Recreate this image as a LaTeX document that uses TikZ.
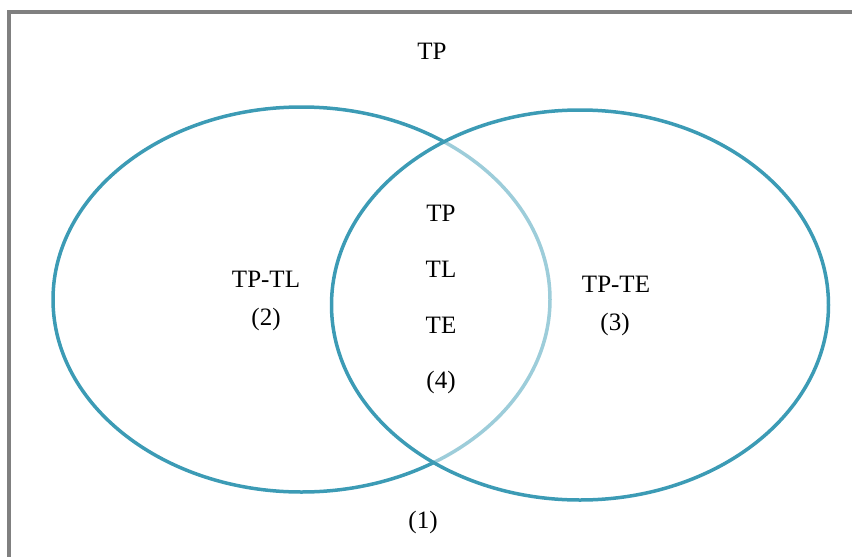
\documentclass[tikz,border=0pt]{standalone}
\usepackage{fontspec}
\setmainfont{Liberation Serif}
\definecolor{venn}{RGB}{60,155,181}
\definecolor{frame}{RGB}{128,128,128}
\tikzset{
  lbl/.style={anchor=base, inner sep=0pt, font=\fontsize{25}{30}\selectfont, text=black},
  ring/.style={draw=venn, line width=3.5pt},
}
\begin{document}
\begin{tikzpicture}[x=1pt,y=-1pt]
\useasboundingbox (0,0) rectangle (852,557);
% frame
\draw[frame, line width=4pt] (9,557) -- (9,12) -- (852,12);
% left circle
\draw[ring] (301.5,299.5) ellipse [x radius=248.5, y radius=192.5];
% right circle with translucent white fill
\fill[white, opacity=0.5] (580,305) ellipse [x radius=248.5, y radius=195];
\draw[ring] (580,305) ellipse [x radius=248.5, y radius=195];
% labels
\node[lbl] (tp) at (432,59) {TP};
\node[lbl] (tptl) at (266,287) {TP-TL};
\node[lbl] (n2) at (266,325.5) {(2)};
\node[lbl] (tpte) at (616,292) {TP-TE};
\node[lbl] (n3) at (615,330.5) {(3)};
\node[lbl] (ctp) at (441,221) {TP};
\node[lbl] (ctl) at (441,277) {TL};
\node[lbl] (cte) at (441,333) {TE};
\node[lbl] (n4) at (441,388.5) {(4)};
\node[lbl] (n1) at (423,528.5) {(1)};
\end{tikzpicture}
\end{document}
